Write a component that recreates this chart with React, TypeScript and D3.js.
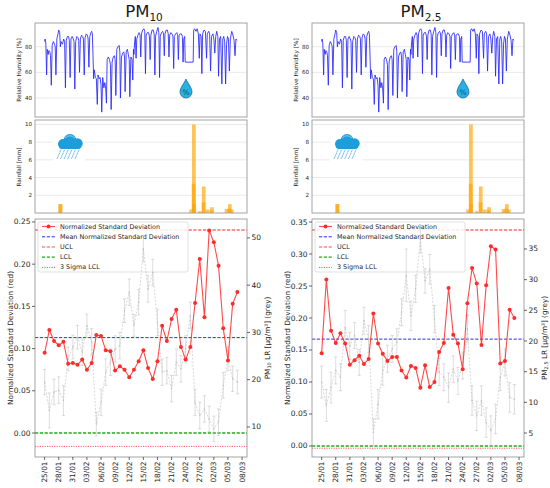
import React from "react";
import * as d3 from "d3";

// ---------- DATA ----------
const sampleDays = d3.range(0, 42); // 25/01 ... 07/03, one per day
const xTickDays = [0, 3, 6, 9, 12, 15, 18, 21, 24, 27, 30, 33, 36, 39, 42];
const xTickLabels = ["25/01", "28/01", "31/01", "03/02", "06/02", "09/02", "12/02", "15/02", "18/02", "21/02", "24/02", "27/02", "02/03", "05/03", "08/03"];

// Relative humidity trace vertices [day, %]
const rhPoints: [number, number][] = [
  [0.0, 84], [0.1, 86], [0.25, 83], [0.42, 58], [0.55, 78], [0.75, 74], [0.9, 77],
  [1.1, 76], [1.25, 73], [1.42, 50], [1.6, 81], [1.85, 84],
  [2.1, 82], [2.25, 80], [2.4, 58], [2.6, 86], [2.85, 90],
  [3.0, 93], [3.2, 91], [3.35, 80], [3.5, 84], [3.8, 82],
  [4.05, 86], [4.25, 84], [4.42, 48], [4.6, 85], [4.85, 88],
  [5.1, 88], [5.25, 85], [5.42, 56], [5.6, 86], [5.85, 88],
  [6.1, 86], [6.25, 84], [6.42, 47], [6.6, 84], [6.85, 88],
  [7.1, 87], [7.25, 85], [7.42, 60], [7.6, 86], [7.85, 89],
  [8.1, 88], [8.25, 86], [8.42, 58], [8.6, 87], [8.85, 90],
  [9.1, 89], [9.25, 86], [9.42, 64], [9.6, 88], [9.85, 91],
  [10.0, 92], [10.15, 90], [10.3, 72], [10.42, 55], [10.55, 62], [10.8, 56],
  [11.0, 55], [11.2, 35], [11.35, 58], [11.6, 55], [11.8, 56],
  [12.0, 50], [12.15, 29], [12.35, 56], [12.6, 48], [12.8, 52],
  [13.0, 47], [13.15, 36], [13.3, 70], [13.55, 72], [13.8, 70],
  [14.0, 66], [14.15, 31], [14.35, 68], [14.6, 72], [14.85, 73],
  [15.0, 70], [15.15, 42], [15.35, 78], [15.6, 80], [15.85, 81],
  [16.0, 76], [16.12, 40], [16.35, 72], [16.6, 75], [16.85, 76],
  [17.0, 72], [17.12, 45], [17.35, 76], [17.6, 78], [17.8, 74],
  [18.0, 70], [18.12, 41], [18.35, 72], [18.6, 70], [18.75, 54], [18.9, 78],
  [19.0, 74], [19.15, 84], [19.3, 88], [19.45, 71], [19.6, 86], [19.85, 89],
  [20.1, 91], [20.3, 89], [20.45, 72], [20.6, 90], [20.85, 93],
  [21.1, 94], [21.3, 92], [21.45, 59], [21.6, 89], [21.85, 91],
  [22.1, 91], [22.3, 88], [22.45, 70], [22.6, 89], [22.85, 93],
  [23.1, 93], [23.3, 90], [23.45, 58], [23.6, 88], [23.85, 92],
  [24.1, 95], [24.3, 91], [24.45, 56], [24.6, 88], [24.85, 91],
  [25.1, 92], [25.3, 90], [25.45, 73], [25.6, 90], [25.85, 93],
  [26.1, 93], [26.3, 90], [26.45, 72], [26.6, 89], [26.85, 91],
  [27.1, 90], [27.3, 88], [27.45, 63], [27.6, 88], [27.85, 90],
  [28.1, 91], [28.3, 89], [28.45, 70], [28.6, 89], [28.85, 90],
  [29.1, 90], [29.3, 88], [29.45, 68], [29.6, 86], [29.8, 88], [29.9, 68], [31.6, 68],
  [31.7, 93], [31.9, 94], [32.2, 92], [32.45, 94], [32.7, 90], [32.9, 71], [33.05, 90],
  [33.3, 88], [33.45, 59], [33.6, 90], [33.9, 93], [34.2, 92], [34.45, 71], [34.6, 90],
  [34.9, 92], [35.1, 90], [35.3, 61], [35.5, 88], [35.8, 90], [36.0, 86], [36.2, 75],
  [36.4, 88], [36.6, 92], [36.85, 88], [37.0, 57], [37.2, 86], [37.45, 88], [37.7, 51],
  [37.9, 86], [38.1, 88], [38.3, 84], [38.5, 51], [38.7, 82], [38.9, 88], [39.1, 86],
  [39.3, 61], [39.5, 86], [39.8, 92], [40.0, 90], [40.3, 85], [40.5, 73], [40.7, 86], [40.9, 85],
];
const rhTicks = [40, 60, 80];

// Hourly rainfall bars [day, mm]
const rainPoints: [number, number][] = [
  [3.3, 1.0], [3.4, 1.0],
  [31.15, 0.4], [31.7, 3.3], [31.75, 10.0], [31.8, 1.0],
  [33.0, 0.2], [33.8, 1.2], [33.85, 3.0], [34.7, 0.4], [35.5, 0.3], [35.6, 0.65],
  [38.7, 0.45], [39.3, 0.5], [39.4, 1.0], [39.8, 0.4],
];
const rainTicks = [2, 4, 6, 8, 10];

// PM10 panel
const nsd10 = [0.095, 0.122, 0.109, 0.104, 0.108, 0.082, 0.083, 0.081, 0.087, 0.075, 0.083, 0.116, 0.115, 0.098, 0.097, 0.074, 0.079, 0.075, 0.066, 0.075, 0.085, 0.098, 0.077, 0.064, 0.085, 0.127, 0.109, 0.135, 0.146, 0.102, 0.087, 0.102, 0.154, 0.206, 0.137, 0.240, 0.226, 0.198, 0.124, 0.086, 0.153, 0.167];
const pm10Lr = [19.5, 13.5, 17.4, 17.8, 15.6, 24.4, 26.9, 29.0, 25.8, 31.4, 28.0, 10.6, 15.2, 21.6, 23.7, 26.5, 27.2, 34.6, 38.5, 31.5, 36.4, 47.7, 39.2, 42.7, 32.1, 21.6, 21.9, 18.1, 23.7, 22.3, 26.5, 33.6, 15.2, 12.4, 13.8, 11.7, 9.6, 11.0, 18.8, 24.4, 20.2, 19.5];
const pm10Err = [2.7, 3.7, 2.7, 2.8, 3.2, 2.5, 2.5, 2.5, 2.8, 2.5, 2.8, 2.5, 2.8, 2.8, 2.8, 2.8, 2.8, 2.5, 2.8, 2.3, 2.7, 2.8, 2.8, 2.8, 2.8, 2.8, 2.8, 2.8, 2.8, 2.8, 2.8, 2.8, 2.8, 2.8, 2.8, 2.7, 2.7, 2.8, 2.7, 2.5, 2.7, 2.5];
const pm10Limits = { mean: 0.113, ucl: 0.2405, lcl: 0.0, lcl3: -0.0158 };
const pm10LeftTicks = [0.0, 0.05, 0.1, 0.15, 0.2, 0.25];
const pm10RightTicks = [10, 20, 30, 40, 50];

// PM2.5 panel
const nsd25 = [0.145, 0.260, 0.180, 0.161, 0.176, 0.160, 0.127, 0.134, 0.141, 0.128, 0.136, 0.207, 0.160, 0.144, 0.133, 0.139, 0.139, 0.118, 0.107, 0.125, 0.122, 0.091, 0.126, 0.092, 0.100, 0.147, 0.161, 0.247, 0.174, 0.160, 0.120, 0.223, 0.278, 0.254, 0.158, 0.251, 0.312, 0.307, 0.129, 0.133, 0.213, 0.200];
const pm25Lr = [13.3, 9.5, 12.4, 15.2, 14.1, 22.2, 19.2, 20.9, 16.5, 23.3, 20.3, 5.1, 9.7, 15.2, 17.1, 18.7, 19.8, 24.7, 30.7, 24.1, 28.5, 36.6, 29.8, 31.7, 23.6, 14.9, 14.1, 12.4, 15.4, 13.5, 16.0, 22.0, 10.3, 7.8, 10.3, 6.7, 5.4, 7.3, 14.1, 16.5, 10.8, 10.5];
const pm25Err = [2.6, 2.6, 2.5, 2.2, 2.2, 2.8, 2.2, 2.1, 2.1, 2.2, 2.2, 2.2, 2.4, 2.4, 2.2, 2.2, 2.2, 2.2, 4.3, 2.4, 2.2, 2.2, 2.0, 2.4, 2.2, 2.2, 2.2, 2.4, 2.2, 2.2, 2.2, 2.2, 2.4, 2.4, 2.4, 2.4, 2.4, 2.4, 2.2, 2.2, 2.4, 2.4];
const pm25Limits = { mean: 0.167, ucl: 0.3375, lcl: 0.0, lcl3: -0.0035 };
const pm25LeftTicks = [0.0, 0.05, 0.1, 0.15, 0.2, 0.25, 0.3, 0.35];
const pm25RightTicks = [5, 10, 15, 20, 25, 30, 35];

const legendLabels = ["Normalized Standard Deviation", "Mean Normalized Standard Deviation", "UCL", "LCL", "3 Sigma LCL"];

// ---------- STYLE ----------
const FONT = "DejaVu Sans, Verdana, sans-serif";
const SPINE = "#9a9a9a";
const TXT = "#262626";
const GRID = "#e3e3e3";
const RED = "#ff2a2a";
const GREY = "#bdbdbd";
const SIGMA = "#ff5a5a";

type PanelProps = {
  x0: number;
  title: string;
  sub: string;
  nsd: number[];
  lr: number[];
  err: number[];
  limits: { mean: number; ucl: number; lcl: number; lcl3: number };
  yDom: [number, number];
  y2Dom: [number, number];
  leftTicks: number[];
  rightTicks: number[];
  lrSub: string;
};

const Drop = ({ cx, ty }: { cx: number; ty: number }) => (
  <g>
    <path
      d={`M${cx},${ty} C${cx + 1.5},${ty + 4} ${cx + 6},${ty + 8.5} ${cx + 6},${ty + 13} A6,6 0 0 1 ${cx - 6},${ty + 13} C${cx - 6},${ty + 8.5} ${cx - 1.5},${ty + 4} ${cx},${ty} Z`}
      fill="#27b2e6"
      stroke="#1a5a7a"
      strokeWidth={0.7}
    />
    <text x={cx} y={ty + 13.5} textAnchor="middle" dominantBaseline="central" fontSize={7.5} fontFamily={FONT} fill="#174d68">%</text>
  </g>
);

const Cloud = ({ x, y }: { x: number; y: number }) => {
  const drops: [number, number][] = [];
  for (let r = 0; r < 3; r++) for (let c = 0; c < 6; c++) drops.push([x + 4 + c * 3.6 - r * 1.4, y + 15 + r * 3.2]);
  return (
    <g>
      <rect x={x - 4} y={y - 3} width={32} height={30} fill="#fff" />
      <g fill="#1e9ddb">
        <circle cx={x + 6} cy={y + 9} r={5} />
        <circle cx={x + 13} cy={y + 5.5} r={6.5} />
        <circle cx={x + 20.5} cy={y + 8.5} r={5.2} />
        <rect x={x + 2} y={y + 8} width={22} height={6} rx={3} />
      </g>
      <path d={`M${x + 8},${y + 3} Q${x + 13},${y - 1.5} ${x + 18},${y + 3}`} fill="none" stroke="#7fd0f2" strokeWidth={1} />
      {drops.map(([a, b], i) => (
        <line key={i} x1={a} y1={b} x2={a - 1.2} y2={b + 2.2} stroke="#6bbbe6" strokeWidth={0.9} strokeLinecap="round" />
      ))}
    </g>
  );
};

const Panel = (p: PanelProps) => {
  const x0 = p.x0;
  const x1 = p.x0 + 212;
  const x = d3.scaleLinear().domain([-2.05, 43.05]).range([x0, x1]);
  const yRH = d3.scaleLinear().domain([25.2, 98.5]).range([117, 23]);
  const yRain = d3.scaleLinear().domain([0, 10.5]).range([213, 120]);
  const yTop = 219;
  const yBot = 457;
  const y = d3.scaleLinear().domain(p.yDom).range([yBot, yTop]);
  const y2 = d3.scaleLinear().domain(p.y2Dom).range([yBot, yTop]);
  const clipId = `clip${x0}`;

  const rhLine = d3.line<[number, number]>().x((d) => x(d[0])).y((d) => yRH(d[1]));
  const redLine = d3.line<number>().x((_, i) => x(sampleDays[i])).y((d) => y(d));
  const greyLine = d3.line<number>().x((_, i) => x(sampleDays[i])).y((d) => y2(d));
  const barW = x(0.8) - x(0);

  const lgX = x0 + 3;
  const lgY = 222;
  const rows = [226.5, 236.8, 247, 257.2, 267.4];

  return (
    <g>
      <defs>
        <clipPath id={clipId}>
          <rect x={x0} y={yTop} width={x1 - x0} height={yBot - yTop} />
        </clipPath>
      </defs>
      {/* Title */}
      <text x={x0 + 109} y={17} textAnchor="middle" fontSize={16.5} fontFamily={FONT} fill="#1a1a1a">
        {p.title}
        <tspan fontSize={10.5} dy={4.2}>{p.sub}</tspan>
      </text>

      {/* RH panel */}
      {rhTicks.map((t) => (
        <g key={t}>
          <line x1={x0} x2={x1} y1={yRH(t)} y2={yRH(t)} stroke={GRID} strokeWidth={0.8} />
          <text x={x0 - 3} y={yRH(t)} textAnchor="end" dominantBaseline="central" fontSize={5.6} fontFamily={FONT} fill={TXT}>{t}</text>
        </g>
      ))}
      <path d={rhLine(rhPoints) || ""} fill="none" stroke="#2626ff" strokeOpacity={0.85} strokeWidth={1} strokeLinejoin="round" />
      <rect x={x0} y={23} width={x1 - x0} height={94} fill="none" stroke={SPINE} strokeWidth={0.9} />
      <text transform={`translate(${x0 - 16},${70}) rotate(-90)`} textAnchor="middle" dominantBaseline="central" fontSize={5.8} fontFamily={FONT} fill={TXT}>Relative Humidity [%]</text>
      <Drop cx={x0 + 151} ty={79} />

      {/* Rainfall panel */}
      {rainTicks.map((t) => (
        <g key={t}>
          <line x1={x0} x2={x1} y1={yRain(t)} y2={yRain(t)} stroke={GRID} strokeWidth={0.8} />
          <text x={x0 - 3} y={yRain(t)} textAnchor="end" dominantBaseline="central" fontSize={5.6} fontFamily={FONT} fill={TXT}>{t}</text>
        </g>
      ))}
      <Cloud x={x0 + 22} y={135} />
      {rainPoints.map(([t, v], i) => (
        <rect key={i} x={x(t) - barW / 2} y={yRain(v)} width={barW} height={yRain(0) - yRain(v)} fill="#ffa500" fillOpacity={0.65} />
      ))}
      <rect x={x0} y={120} width={x1 - x0} height={93} fill="none" stroke={SPINE} strokeWidth={0.9} />
      <text transform={`translate(${x0 - 16},${167}) rotate(-90)`} textAnchor="middle" dominantBaseline="central" fontSize={5.8} fontFamily={FONT} fill={TXT}>Rainfall [mm]</text>

      {/* Bottom panel */}
      <g clipPath={`url(#${clipId})`}>
        <line x1={x0} x2={x1} y1={y(p.limits.mean)} y2={y(p.limits.mean)} stroke="#2b2bff" strokeWidth={1} strokeDasharray="3.2,1.6" />
        <line x1={x0} x2={x1} y1={y(p.limits.ucl)} y2={y(p.limits.ucl)} stroke="#ff5050" strokeOpacity={0.85} strokeWidth={1.3} strokeDasharray="3.2,1.6" />
        <line x1={x0} x2={x1} y1={y(p.limits.lcl)} y2={y(p.limits.lcl)} stroke="#1faa1f" strokeWidth={1.3} strokeDasharray="3.2,1.6" />
        <line x1={x0} x2={x1} y1={y(p.limits.lcl3)} y2={y(p.limits.lcl3)} stroke={SIGMA} strokeWidth={1} strokeDasharray="1.2,1.2" />
      </g>

      {/* Legend */}
      <rect x={lgX} y={lgY} width={150} height={50} rx={2} fill="#fff" fillOpacity={0.85} stroke="#d4d4d4" strokeWidth={0.7} />
      <line x1={lgX + 4} x2={lgX + 17} y1={rows[0]} y2={rows[0]} stroke={RED} strokeOpacity={0.85} strokeWidth={1.1} />
      <circle cx={lgX + 10.5} cy={rows[0]} r={2} fill={RED} />
      <line x1={lgX + 4} x2={lgX + 17} y1={rows[1]} y2={rows[1]} stroke="#2b2bff" strokeWidth={1} strokeDasharray="3.2,1.6" />
      <line x1={lgX + 4} x2={lgX + 17} y1={rows[2]} y2={rows[2]} stroke="#ff5050" strokeWidth={1.2} strokeDasharray="3.2,1.6" />
      <line x1={lgX + 4} x2={lgX + 17} y1={rows[3]} y2={rows[3]} stroke="#1faa1f" strokeWidth={1.2} strokeDasharray="3.2,1.6" />
      <line x1={lgX + 4} x2={lgX + 17} y1={rows[4]} y2={rows[4]} stroke={SIGMA} strokeWidth={1} strokeDasharray="1.2,1.2" />
      {legendLabels.map((l, i) => (
        <text key={l} x={lgX + 22} y={rows[i]} dominantBaseline="central" fontSize={6.4} fontFamily={FONT} fill={TXT}>{l}</text>
      ))}

      {/* Grey series with error bars */}
      <g clipPath={`url(#${clipId})`} stroke={GREY} strokeOpacity={0.75}>
        <path d={greyLine(p.lr) || ""} fill="none" strokeWidth={0.8} strokeDasharray="2,1.5" />
        {p.lr.map((v, i) => {
          const cx = x(sampleDays[i]);
          const a = y2(v + p.err[i]);
          const b = y2(v - p.err[i]);
          return (
            <g key={i} strokeWidth={0.7}>
              <line x1={cx} x2={cx} y1={a} y2={b} />
              <line x1={cx - 1.6} x2={cx + 1.6} y1={a} y2={a} />
              <line x1={cx - 1.6} x2={cx + 1.6} y1={b} y2={b} />
              <circle cx={cx} cy={y2(v)} r={0.7} fill={GREY} stroke="none" />
            </g>
          );
        })}
      </g>

      {/* Red series */}
      <path d={redLine(p.nsd) || ""} fill="none" stroke={RED} strokeOpacity={0.85} strokeWidth={1.1} strokeLinejoin="round" />
      {p.nsd.map((v, i) => (
        <circle key={i} cx={x(sampleDays[i])} cy={y(v)} r={2} fill={RED} />
      ))}

      <rect x={x0} y={yTop} width={x1 - x0} height={yBot - yTop} fill="none" stroke={SPINE} strokeWidth={0.9} />

      {/* Left ticks */}
      {p.leftTicks.map((t) => (
        <g key={t}>
          <line x1={x0 - 3} x2={x0} y1={y(t)} y2={y(t)} stroke={TXT} strokeWidth={0.7} />
          <text x={x0 - 4.5} y={y(t)} textAnchor="end" dominantBaseline="central" fontSize={7.5} fontFamily={FONT} fill={TXT}>{d3.format(".2f")(t)}</text>
        </g>
      ))}
      {/* Right ticks */}
      {p.rightTicks.map((t) => (
        <g key={t}>
          <line x1={x1} x2={x1 + 3} y1={y2(t)} y2={y2(t)} stroke={TXT} strokeWidth={0.7} />
          <text x={x1 + 4.5} y={y2(t)} dominantBaseline="central" fontSize={7.5} fontFamily={FONT} fill={TXT}>{t}</text>
        </g>
      ))}
      {/* Bottom ticks */}
      {xTickDays.map((t, i) => (
        <g key={t}>
          <line x1={x(t)} x2={x(t)} y1={yBot} y2={yBot + 3} stroke={TXT} strokeWidth={0.7} />
          <text transform={`translate(${x(t)},${yBot + 4.5}) rotate(-90)`} textAnchor="end" dominantBaseline="central" fontSize={7.3} fontFamily={FONT} fill={TXT}>{xTickLabels[i]}</text>
        </g>
      ))}

      <text transform={`translate(${x0 - 25},${338}) rotate(-90)`} textAnchor="middle" dominantBaseline="central" fontSize={7.3} fontFamily={FONT} fill={TXT}>Normalized Standard Deviation (red)</text>
      <text transform={`translate(${x1 + 20},${338}) rotate(-90)`} textAnchor="middle" dominantBaseline="central" fontSize={7.3} fontFamily={FONT} fill={TXT}>
        PM<tspan fontSize={5} dy={1.5}>{p.lrSub}</tspan><tspan dy={-1.5}> LR [μg/m³] (grey)</tspan>
      </text>
    </g>
  );
};

export default function App() {
  return (
    <div style={{ position: "absolute", left: 0, top: 0, width: 550, height: 488, background: "#fff" }}>
      <svg width={550} height={488} viewBox="0 0 550 488" style={{ display: "block" }}>
        <rect width={550} height={488} fill="#fff" />
        <Panel x0={35} title="PM" sub="10" nsd={nsd10} lr={pm10Lr} err={pm10Err} limits={pm10Limits}
          yDom={[-0.0284, 0.2535]} y2Dom={[3.64, 54.0]} leftTicks={pm10LeftTicks} rightTicks={pm10RightTicks} lrSub="10" />
        <Panel x0={312} title="PM" sub="2.5" nsd={nsd25} lr={pm25Lr} err={pm25Err} limits={pm25Limits}
          yDom={[-0.0172, 0.3547]} y2Dom={[1.09, 39.89]} leftTicks={pm25LeftTicks} rightTicks={pm25RightTicks} lrSub="2.5" />
      </svg>
    </div>
  );
}
